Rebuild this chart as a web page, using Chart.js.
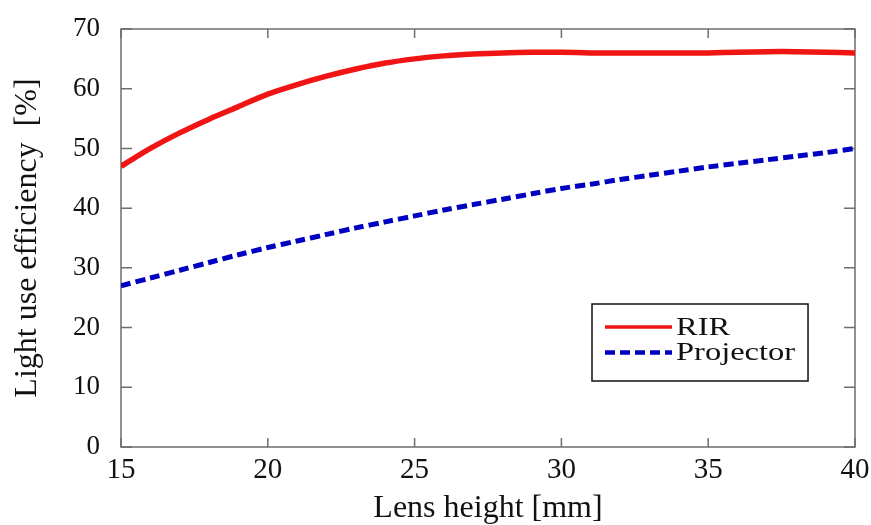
<!DOCTYPE html>
<html><head><meta charset="utf-8">
<script src="https://cdn.jsdelivr.net/npm/chart.js@4"></script>
<style>html,body{margin:0;padding:0;background:#fff}#wrap{width:871px;height:525px}</style>
</head><body><div id="wrap"><canvas id="c" width="871" height="525"></canvas></div>
<script>
const lensHeight = [15,16,17,18,19,20,21,22,23,24,25,26,27,28,29,30,31,32,33,34,35,36,37,38,39,40];
const rirEfficiency = [47.0,50.0,52.6,54.9,57.0,59.1,60.7,62.1,63.3,64.3,65.0,65.5,65.8,66.0,66.1,66.1,66.0,66.0,66.0,66.0,66.0,66.1,66.2,66.2,66.1,66.0];
const projectorEfficiency = [27.0,28.3,29.6,30.9,32.2,33.4,34.5,35.6,36.7,37.7,38.7,39.7,40.6,41.5,42.4,43.3,44.0,44.8,45.5,46.2,46.9,47.5,48.1,48.7,49.3,50.0];
const xTickValues = [15,20,25,30,35,40];
const yTickValues = [0,10,20,30,40,50,60,70];
const seriesNames = ['RIR','Projector'];
const xTitle = 'Lens height [mm]';
const yTitle = 'Light use efficiency  [%]';

const FONT = "'Liberation Serif', 'Times New Roman', serif";
const FRAME = '#6e6e6e';

const framePlugin = {
  id: 'frameTicks',
  beforeDatasetsDraw(chart) {
    const {ctx, chartArea: a, scales: {x, y}} = chart;
    ctx.save();
    ctx.strokeStyle = FRAME;
    ctx.lineWidth = 1.5;
    ctx.strokeRect(a.left, a.top, a.right - a.left, a.bottom - a.top);
    ctx.beginPath();
    xTickValues.forEach(v => {
      const px = x.getPixelForValue(v);
      ctx.moveTo(px, a.bottom); ctx.lineTo(px, a.bottom - 9);
      ctx.moveTo(px, a.top); ctx.lineTo(px, a.top + 9);
    });
    yTickValues.forEach(v => {
      const py = y.getPixelForValue(v);
      ctx.moveTo(a.left, py); ctx.lineTo(a.left + 11, py);
      ctx.moveTo(a.right, py); ctx.lineTo(a.right - 11, py);
    });
    ctx.stroke();
    ctx.restore();
  },
  afterDraw(chart) {
    const {ctx, chartArea: a} = chart;
    const w = a.right - a.left, h = a.bottom - a.top;
    const bx = a.left + w * 0.6417, by = a.top + h * 0.6579;
    const bw = w * 0.2943, bh = h * 0.1842;
    ctx.save();
    ctx.fillStyle = '#fff';
    ctx.fillRect(bx, by, bw, bh);
    ctx.strokeStyle = '#111';
    ctx.lineWidth = 1.5;
    ctx.strokeRect(bx, by, bw, bh);
    const ds = chart.data.datasets;
    const rows = [by + bh * 0.30, by + bh * 0.63];
    const lx0 = bx + 13, lx1 = bx + 80;
    ds.forEach((d, i) => {
      ctx.beginPath();
      ctx.strokeStyle = d.borderColor;
      ctx.lineWidth = i === 0 ? 3.5 : 4.5;
      ctx.setLineDash(d.borderDash || []);
      ctx.moveTo(lx0, rows[i]); ctx.lineTo(lx1, rows[i]);
      ctx.stroke();
      ctx.setLineDash([]);
      ctx.save();
      ctx.translate(lx1 + 4, rows[i] + 1);
      ctx.scale(1.25, 1);
      ctx.fillStyle = '#111';
      ctx.font = '26px ' + FONT;
      ctx.textBaseline = 'middle';
      ctx.textAlign = 'left';
      ctx.fillText(d.label, 0, 0);
      ctx.restore();
    });
    ctx.restore();
  }
};

new Chart(document.getElementById('c'), {
  type: 'line',
  data: {
    datasets: [
      {
        label: seriesNames[0],
        data: lensHeight.map((v, i) => ({x: v, y: rirEfficiency[i]})),
        borderColor: '#f01414',
        borderWidth: 5.5,
        pointRadius: 0,
        tension: 0.3,
        fill: false
      },
      {
        label: seriesNames[1],
        data: lensHeight.map((v, i) => ({x: v, y: projectorEfficiency[i]})),
        borderColor: '#0000c0',
        borderWidth: 5,
        borderDash: [10, 5],
        pointRadius: 0,
        tension: 0.3,
        fill: false
      }
    ]
  },
  options: {
    responsive: false,
    animation: false,
    devicePixelRatio: 1,
    layout: {padding: {top: 29, right: 16, left: 0, bottom: 0}},
    plugins: {legend: {display: false}, tooltip: {enabled: false}},
    scales: {
      x: {
        type: 'linear', min: 15, max: 40,
        afterBuildTicks: s => { s.ticks = xTickValues.map(v => ({value: v})); },
        afterFit: s => { s.height = 78; s.paddingLeft = 0; s.paddingRight = 0; },
        grid: {display: true, drawOnChartArea: false, drawTicks: false},
        border: {display: false},
        ticks: {color: '#111', padding: 6, font: {family: FONT, size: 29}},
        title: {display: true, text: xTitle, color: '#111', font: {family: FONT, size: 32, lineHeight: 1.05}, padding: {top: 0, bottom: 0}}
      },
      y: {
        type: 'linear', min: 0, max: 70,
        afterBuildTicks: s => { s.ticks = yTickValues.map(v => ({value: v})); },
        afterFit: s => { s.width = 121; s.paddingTop = 0; s.paddingBottom = 0; },
        grid: {display: true, drawOnChartArea: false, drawTicks: false},
        border: {display: false},
        ticks: {color: '#111', padding: 21, font: {family: FONT, size: 27}},
        title: {display: true, text: yTitle, color: '#111', font: {family: FONT, size: 32}, padding: {top: 8, bottom: 0}}
      }
    }
  },
  plugins: [framePlugin]
});
</script>
</body></html>
